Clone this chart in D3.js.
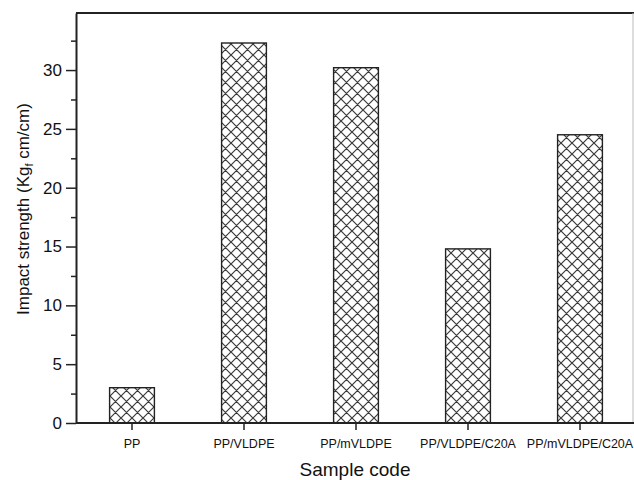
<!DOCTYPE html>
<html><head><meta charset="utf-8">
<script src="https://cdn.jsdelivr.net/npm/d3@7"></script>
<style>body{margin:0;background:#fff}svg{display:block}text{font-family:"Liberation Sans",Arial,sans-serif;fill:#111}</style>
</head><body><svg id="c" width="634" height="480"></svg>
<script>
const categories = ["PP","PP/VLDPE","PP/mVLDPE","PP/VLDPE/C20A","PP/mVLDPE/C20A"];
const values = [3.0, 32.3, 30.2, 14.8, 24.5];
const yTicks = [0,5,10,15,20,25,30];
const yMinorTicks = [2.5,7.5,12.5,17.5,22.5,27.5,32.5];

const svg = d3.select("#c");
const L = 76, R = 634, T = 13, B = 423;
const x = d3.scaleBand().domain(categories).range([L, L + 560]).paddingInner(0.6).paddingOuter(0.3);
const y = d3.scaleLinear().domain([0, 34.85]).range([B, T]);

const defs = svg.append("defs");
const pat = defs.append("pattern").attr("id","hatch").attr("patternUnits","userSpaceOnUse")
  .attr("width",11).attr("height",11).attr("x",0).attr("y",0);
pat.append("rect").attr("width",11).attr("height",11).attr("fill","#fff");
pat.append("path").attr("d","M-1,-1L12,12M-1,10L1,12M10,-1L12,1M-1,12L12,-1M-1,1L1,-1M10,12L12,10")
  .attr("stroke","#3a3a3a").attr("stroke-width",1.2).attr("fill","none");

// frame
svg.append("line").attr("x1",L).attr("x2",R).attr("y1",T).attr("y2",T).attr("stroke","#222").attr("stroke-width",2);
svg.append("line").attr("x1",R-1).attr("x2",R-1).attr("y1",T).attr("y2",B).attr("stroke","#bbb").attr("stroke-width",1);

// bars
svg.append("g").selectAll("rect").data(categories).join("rect")
  .attr("x", d => x(d)).attr("width", x.bandwidth())
  .attr("y", (d,i) => y(values[i])).attr("height", (d,i) => y(0) - y(values[i]))
  .attr("fill","url(#hatch)").attr("stroke","#222").attr("stroke-width",1.4);

// y axis
const yAxis = d3.axisLeft(y).tickValues(yTicks).tickSize(10).tickPadding(4).tickSizeOuter(0);
const gy = svg.append("g").attr("transform",`translate(${L},0)`).call(yAxis);
gy.select(".domain").attr("stroke","#222").attr("stroke-width",2);
gy.selectAll(".tick line").attr("stroke","#222").attr("stroke-width",1.5);
gy.selectAll(".tick text").attr("font-size",17).attr("font-family","Liberation Sans, Arial, sans-serif").attr("fill","#111");
const gym = svg.append("g").attr("transform",`translate(${L},0)`)
  .call(d3.axisLeft(y).tickValues(yMinorTicks).tickSize(5).tickFormat(""));
gym.select(".domain").remove();
gym.selectAll(".tick line").attr("stroke","#222").attr("stroke-width",1.5);

// x axis
const gx = svg.append("g").attr("transform",`translate(0,${B})`)
  .call(d3.axisBottom(x).tickSize(7).tickPadding(9).tickSizeOuter(0));
gx.select(".domain").attr("d",`M${L},0H${R}`).attr("stroke","#222").attr("stroke-width",2);
gx.selectAll(".tick line").attr("stroke","#222").attr("stroke-width",1.5);
gx.selectAll(".tick text").attr("font-size",12.5).attr("font-family","Liberation Sans, Arial, sans-serif").attr("fill","#111");

// labels
svg.append("text").attr("x",355).attr("y",476).attr("text-anchor","middle").attr("font-size",19).text("Sample code");
const yl = svg.append("text").attr("transform","translate(29,209) rotate(-90)").attr("text-anchor","middle").attr("font-size",17);
yl.append("tspan").text("Impact strength (Kg");
yl.append("tspan").attr("font-size",11).attr("dy",4).text("f");
yl.append("tspan").attr("dy",-4).text(" cm/cm)");
</script></body></html>
